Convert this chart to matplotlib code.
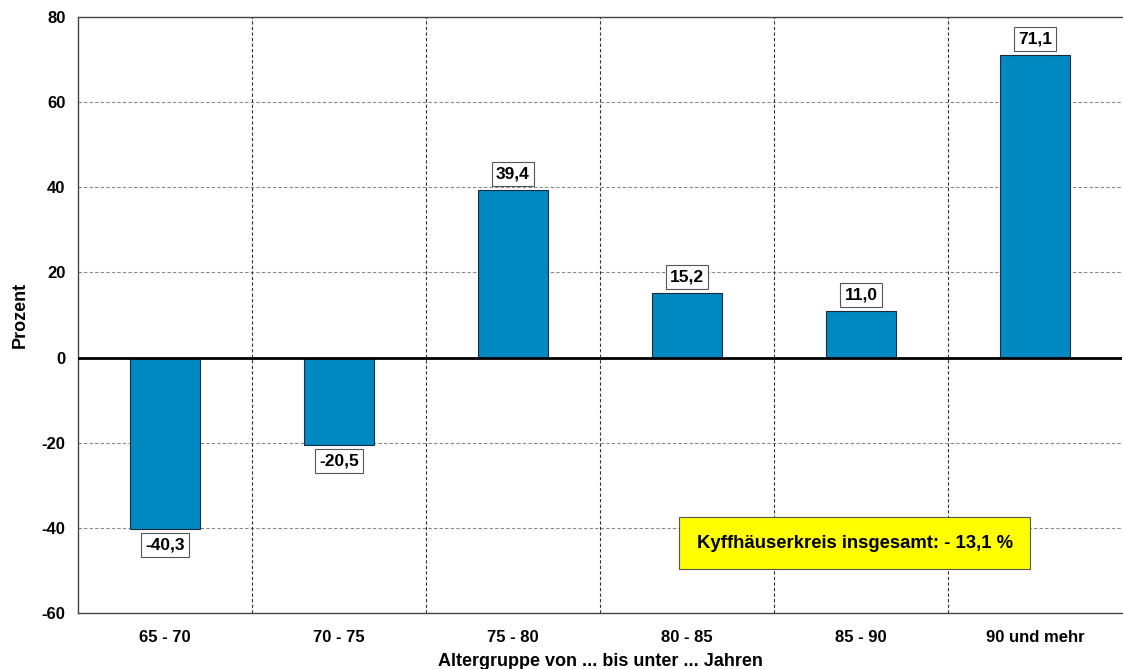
import matplotlib
matplotlib.use("Agg")
import matplotlib.pyplot as plt

plt.rcParams['font.family'] = ['Liberation Sans', 'DejaVu Sans']
plt.rcParams['font.weight'] = 'bold'

# Altersgruppen und Veraenderung in Prozent
categories = ['65 - 70', '70 - 75', '75 - 80', '80 - 85', '85 - 90', '90 und mehr']
values = [-40.3, -20.5, 39.4, 15.2, 11.0, 71.1]
y_ticks = [-60, -40, -20, 0, 20, 40, 60, 80]

fig = plt.figure(figsize=(11.23, 6.69), dpi=100)
ax = fig.add_axes([0.0695, 0.0837, 0.9295, 0.8909])

x = list(range(len(categories)))
bars = ax.bar(x, values, width=0.4, color='#0088c0', edgecolor='#1a2a3a', linewidth=0.8, zorder=3)

ax.set_xlim(-0.5, len(categories) - 0.5)
ax.set_ylim(-60, 80)
ax.set_yticks(y_ticks)
ax.set_yticklabels([str(t) for t in y_ticks], fontsize=12, fontweight='bold')
ax.set_xticks(x)
ax.set_xticklabels(categories, fontsize=12, fontweight='bold')
ax.tick_params(axis='x', length=0, pad=12)
ax.tick_params(axis='y', length=0, pad=9)

# horizontale Gitterlinien
for t in y_ticks:
    if t not in (0, -60, 80):
        ax.axhline(t, color='#888888', linestyle=(0, (3, 2)), linewidth=0.8, zorder=1)
# vertikale Trennlinien zwischen Gruppen
for i in range(len(categories) - 1):
    ax.axvline(i + 0.5, color='#333333', linestyle=(0, (3, 2)), linewidth=0.8, zorder=1)

ax.axhline(0, color='black', linewidth=2, zorder=4)

for s in ['left', 'bottom', 'top']:
    ax.spines[s].set_color('#444444')
    ax.spines[s].set_linewidth(1)
ax.spines['right'].set_visible(False)

# Werte-Beschriftungen
for xi, v in zip(x, values):
    label = f"{v:.1f}".replace('.', ',')
    if v >= 0:
        ax.annotate(label, (xi, v), xytext=(0, 6), textcoords='offset points',
                    ha='center', va='bottom', fontsize=12.5, fontweight='bold',
                    bbox=dict(boxstyle='square,pad=0.25', fc='white', ec='#555555', lw=0.8), zorder=5)
    else:
        ax.annotate(label, (xi, v), xytext=(0, -6), textcoords='offset points',
                    ha='center', va='top', fontsize=12.5, fontweight='bold',
                    bbox=dict(boxstyle='square,pad=0.25', fc='white', ec='#555555', lw=0.8), zorder=5)

ax.text(0.744, 0.117, 'Kyffhäuserkreis insgesamt: - 13,1 %', transform=ax.transAxes,
        ha='center', va='center', fontsize=13.3, fontweight='bold',
        bbox=dict(boxstyle='square,pad=0.95', fc='#ffff00', ec='#555555', lw=0.8), zorder=5)

ax.set_ylabel('Prozent', fontsize=13, fontweight='bold', labelpad=9)
ax.set_xlabel('Altergruppe von ... bis unter ... Jahren', fontsize=13, fontweight='bold', labelpad=6)

fig.savefig('out.png', dpi=100)
